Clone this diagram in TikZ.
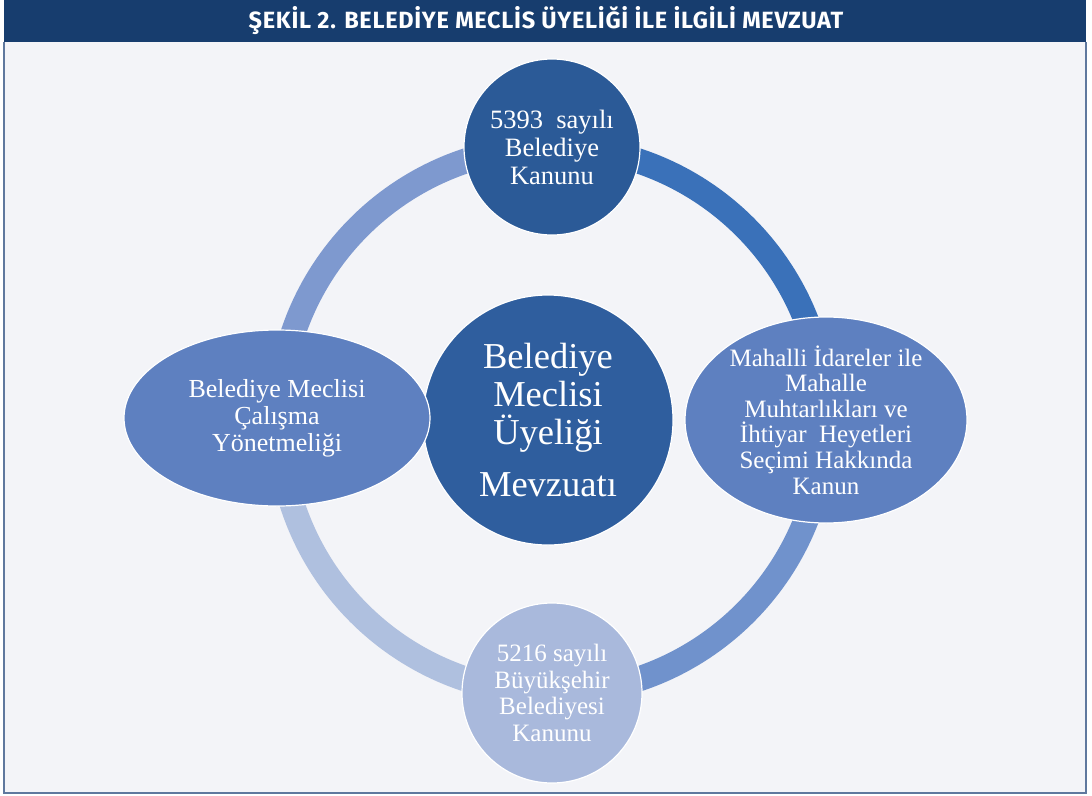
\documentclass[tikz,border=0pt]{standalone}
\usepackage{fontspec}
\usetikzlibrary{shapes.geometric}
\setmainfont{Liberation Serif}
\newfontfamily\titlefont[LetterSpace=3]{Fira Sans}

\definecolor{barblue}{HTML}{173D6E}
\definecolor{pagebg}{HTML}{F3F4F8}
\definecolor{framegray}{HTML}{5F789E}
\definecolor{topblue}{HTML}{2B5A97}
\definecolor{midblue}{HTML}{2F5E9E}
\definecolor{sideblue}{HTML}{5E80C0}
\definecolor{lowblue}{HTML}{A9B9DC}
\definecolor{ringtr}{HTML}{3A71B9}
\definecolor{ringbr}{HTML}{7092CC}
\definecolor{ringbl}{HTML}{AFC0DF}
\definecolor{ringtl}{HTML}{7E99CF}

\begin{document}
\begin{tikzpicture}[x=1pt,y=1pt,
    bubble/.style={circle,draw=white,line width=1.2pt,text=white,align=center,inner sep=0pt},
    oval/.style={ellipse,draw=white,line width=1.2pt,fill=sideblue,inner sep=0pt},
    txt/.style={text=white,align=center,inner sep=0pt},
    ringarc/.style={line width=25pt}]
\useasboundingbox (0,0) rectangle (1092,-795);

% frame and title bar
\fill[pagebg] (4,-42) rectangle (1086,-793);
\draw[framegray,line width=1.5pt] (4,-42) -- (4,-793) -- (1086,-793) -- (1086,-42);
\fill[barblue] (4,0) rectangle (1086,-42);
\node[text=white,font=\titlefont\bfseries\fontsize{23.5}{27}\selectfont] (title) at (546,-21)
    {ŞEKİL 2. BELEDİYE MECLİS ÜYELİĞİ İLE İLGİLİ MEVZUAT};

% ring behind the nodes
\coordinate (ctr) at (552,-420);
\draw[ringarc,ringtr] ([shift={(90:273pt)}]ctr) arc (90:0:273pt);
\draw[ringarc,ringbr] ([shift={(0:273pt)}]ctr) arc (0:-90:273pt);
\draw[ringarc,ringbl] ([shift={(-90:273pt)}]ctr) arc (-90:-180:273pt);
\draw[ringarc,ringtl] ([shift={(180:273pt)}]ctr) arc (180:90:273pt);

% centre
\node[bubble,fill=midblue,minimum size=250pt,font=\fontsize{36.5}{38}\selectfont] (mevzuat) at (548,-420)
    {Belediye\\Meclisi\\Üyeliği\\[14pt]Mevzuatı};

% top and bottom
\node[bubble,fill=topblue,minimum size=176pt,font=\fontsize{26.5}{28}\selectfont] (kanun5393) at (552,-147)
    {5393~ sayılı\\Belediye\\Kanunu};
\node[bubble,fill=lowblue,minimum size=180pt,font=\fontsize{25}{26.5}\selectfont] (kanun5216) at (552,-693)
    {5216 sayılı\\Büyükşehir\\Belediyesi\\Kanunu};

% left and right
\node[oval,minimum width=306pt,minimum height=176pt] (yonetmelik) at (277,-418) {};
\node[txt,font=\fontsize{26}{26.8}\selectfont] (yonetmeliktxt) at (yonetmelik)
    {Belediye Meclisi\\Çalışma\\Yönetmeliği};
\node[oval,minimum width=282pt,minimum height=206pt] (mahalli) at (826,-420) {};
\node[txt,font=\fontsize{25}{25.6}\selectfont] (mahallitxt) at (mahalli)
    {Mahalli İdareler ile\\Mahalle\\Muhtarlıkları ve\\İhtiyar~ Heyetleri\\Seçimi Hakkında\\Kanun};
\end{tikzpicture}
\end{document}
